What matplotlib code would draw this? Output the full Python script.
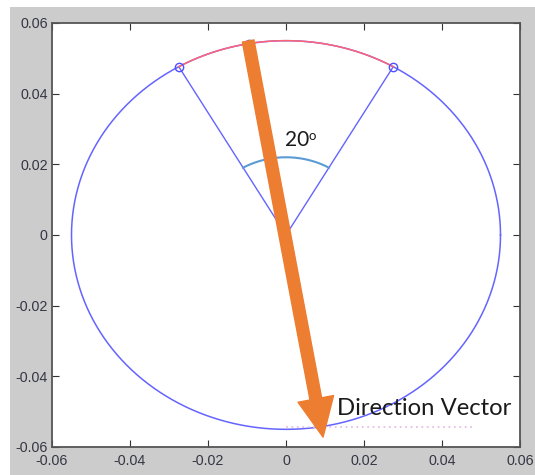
import numpy as np
import matplotlib.pyplot as plt
from matplotlib.patches import FancyArrowPatch, Rectangle

# ---- data ----
circle_radius = 0.055
sector_angles_deg = [60, 120]          # sector edges (red arc between)
marker_angles_deg = [120, 100, 60]     # open circle markers on the circle
inner_arc_radius = 0.022
arrow_start = [-0.0097, 0.0549]
arrow_end = [0.0095, -0.0572]
underline_x = [0.0, 0.048]
underline_y = [-0.0543, -0.0543]
tick_values = [-0.06, -0.04, -0.02, 0, 0.02, 0.04, 0.06]
tick_labels = ['-0.06', '-0.04', '-0.02', '0', '0.02', '0.04', '0.06']
angle_label = '20'
vector_label = 'Direction Vector'

W, H = 535, 475
fig = plt.figure(figsize=(W / 100, H / 100), dpi=100)
fig.patch.set_facecolor('white')
fig.add_artist(Rectangle((10 / W, 0), 1 - 10 / W, (H - 7) / H,
                         transform=fig.transFigure, facecolor='#cccccc',
                         edgecolor='none', zorder=0))

ax = fig.add_axes([52 / W, (H - 447) / H, 468 / W, 424 / H])
ax.set_facecolor('white')
ax.set_xlim(-0.06, 0.06)
ax.set_ylim(-0.06, 0.06)

# full circle
t = np.linspace(0, 2 * np.pi, 721)
ax.plot(circle_radius * np.cos(t), circle_radius * np.sin(t),
        color='#6464ff', lw=1.1, zorder=2)

# red arc between sector edges
a = np.radians(np.linspace(sector_angles_deg[0], sector_angles_deg[1], 200))
ax.plot(circle_radius * np.cos(a), circle_radius * np.sin(a),
        color='#ff6474', lw=1.1, zorder=3)

# sector edge lines
for ang in sector_angles_deg:
    r = np.radians(ang)
    ax.plot([0, circle_radius * np.cos(r)], [0, circle_radius * np.sin(r)],
            color='#6464ff', lw=1.0, zorder=2)

# markers
mr = np.radians(marker_angles_deg)
ax.plot(circle_radius * np.cos(mr), circle_radius * np.sin(mr), 'o',
        mfc='none', mec='#5050ff', ms=6, mew=1.0, zorder=4)

# inner angle arc
ax.plot(inner_arc_radius * np.cos(a), inner_arc_radius * np.sin(a),
        color='#5b9bd5', lw=1.5, zorder=3)

# faint dotted underline
ax.plot(underline_x, underline_y, ls=(0, (1, 2)), color='#e2c2e2',
        lw=1.3, zorder=2)

# direction arrow
arrow = FancyArrowPatch(posA=tuple(arrow_start), posB=tuple(arrow_end),
                        arrowstyle='simple,head_length=28,head_width=26,tail_width=8.5',
                        mutation_scale=1, color='#ed7d31', shrinkA=0, shrinkB=0,
                        zorder=6)
ax.add_patch(arrow)

# labels
ax.text(-0.0003, 0.0252, angle_label, fontsize=15, family='Lato',
        color='#1a1a1a', ha='left', va='baseline', zorder=7)
ax.text(0.0058, 0.0268, 'o', fontsize=9.5, family='Lato',
        color='#1a1a1a', ha='left', va='baseline', zorder=7)
ax.text(0.0132, -0.0509, vector_label, fontsize=17.2, family='Lato',
        color='#1a1a1a', ha='left', va='baseline', zorder=7)

# ticks
ax.set_xticks(tick_values)
ax.set_xticklabels(tick_labels)
ax.set_yticks(tick_values)
ax.set_yticklabels(tick_labels)
ax.tick_params(direction='in', length=5, width=0.8, top=True, right=True,
               labelsize=10.3, labelcolor='#363644', color='#333333')
ax.tick_params(axis='x', pad=5)
ax.tick_params(axis='y', pad=3)
for lab in ax.get_xticklabels() + ax.get_yticklabels():
    lab.set_family('Liberation Sans')
for s in ax.spines.values():
    s.set_color('#555555')
    s.set_linewidth(1.3)

fig.savefig('out.png', dpi=100)
